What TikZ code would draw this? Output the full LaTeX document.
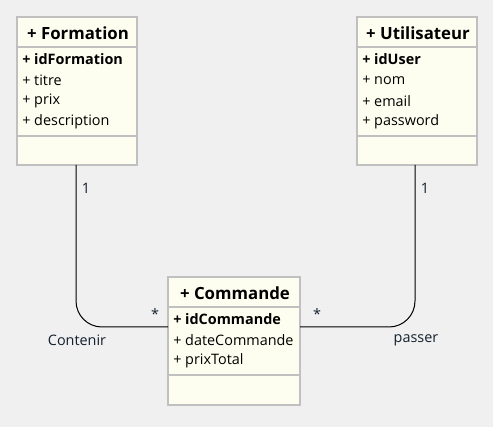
\documentclass[tikz,border=0pt]{standalone}
\usepackage{fontspec}
\setmainfont{Open Sans}
\begin{document}
\begin{tikzpicture}[x=0.75pt,y=-0.75pt,
  box/.style={draw=boxgray,line width=1.5pt,fill=boxfill},
  sep/.style={draw=boxgray,line width=1.5pt},
  head/.style={font=\fontsize{12.6}{14}\selectfont\bfseries,inner sep=0pt,anchor=center},
  attr/.style={font=\fontsize{10.8}{12}\selectfont,inner sep=0pt,anchor=west},
  attrb/.style={attr,font=\fontsize{10.8}{12}\selectfont\bfseries},
  lbl/.style={font=\fontsize{10.8}{12}\selectfont,inner sep=0pt,text=lblcol},
  conn/.style={draw=black,line width=0.75pt,rounded corners=19.5pt}]
\definecolor{boxgray}{HTML}{C0C0C0}
\definecolor{boxfill}{HTML}{FEFEF0}
\definecolor{bg}{HTML}{F0F0F0}
\definecolor{lblcol}{HTML}{14202F}
\fill[bg] (0,0) rectangle (493,427);
\useasboundingbox (0,0) rectangle (493,427);
% Formation
\path[box] (17,17) rectangle (137,165);
\draw[sep] (17,47) -- (137,47);
\draw[sep] (17,136) -- (137,136);
\node[head] (fh) at (78,33) {+ Formation};
\node[attrb] (f1) at (22,59) {+ idFormation};
\node[attr] (f2) at (22,80) {+ titre};
\node[attr] (f3) at (22,101) {+ prix};
\node[attr] (f4) at (22,122) {+ description};
\coordinate (fb) at (76,165);
% Utilisateur
\path[box] (357,17) rectangle (477,165);
\draw[sep] (357,47) -- (477,47);
\draw[sep] (357,136) -- (477,136);
\node[head] (uh) at (418,33) {+ Utilisateur};
\node[attrb] (u1) at (362,59) {+ idUser};
\node[attr] (u2) at (362,80) {+ nom};
\node[attr] (u3) at (362,101) {+ email};
\node[attr] (u4) at (362,122) {+ password};
\coordinate (ub) at (415,165);
% Commande
\path[box] (168,277) rectangle (300,405);
\draw[sep] (168,307) -- (300,307);
\draw[sep] (168,375) -- (300,375);
\node[head] (ch) at (235,293) {+ Commande};
\node[attrb] (c1) at (173,319) {+ idCommande};
\node[attr] (c2) at (173,340) {+ dateCommande};
\node[attr] (c3) at (173,361) {+ prixTotal};
\coordinate (cl) at (168,327);
\coordinate (cr) at (300,327);
% connectors
\draw[conn] (fb) |- (cl);
\draw[conn] (ub) |- (cr);
\node[lbl] (m1) at (86,188) {1};
\node[lbl] (m2) at (425,188) {1};
\node[lbl] (s1) at (155,314) {*};
\node[lbl] (s2) at (317,314) {*};
\node[lbl] (a1) at (77,340) {Contenir};
\node[lbl] (a2) at (416,340) {passer};
\end{tikzpicture}
\end{document}
